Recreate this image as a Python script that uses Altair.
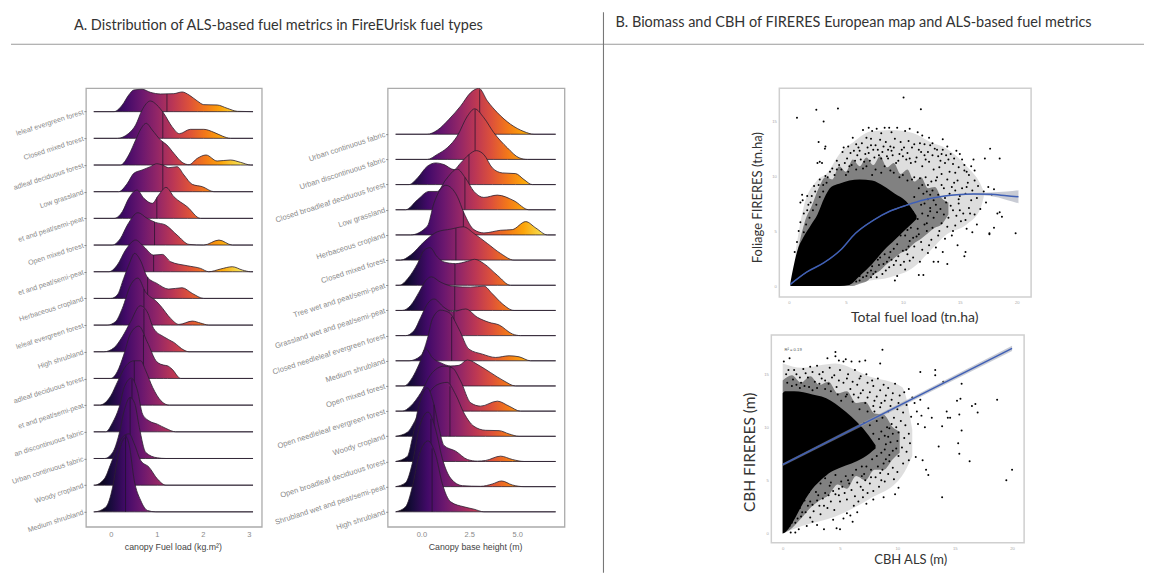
import altair as alt
import numpy as np
import pandas as pd

TITLE_A = "A. Distribution of ALS-based fuel metrics in FireEUrisk fuel types"
TITLE_B = "B. Biomass and CBH of FIRERES European map and ALS-based fuel metrics"

INFERNO = ["#000004", "#160b39", "#420a68", "#6a176e", "#932667", "#bc3754",
           "#dd513a", "#f37819", "#fca50a", "#f6d746", "#fcffa4"]

# ---- Panel A: label, median, (x, height); height in 1/80 of a row
A_LABELS = ["leleaf evergreen forest", "Closed mixed forest", "adleaf deciduous forest",
            "Low grassland", "et and peat/semi-peat", "Open mixed forest",
            "et and peat/semi-peat", "Herbaceous cropland", "leleaf evergreen forest",
            "High shrubland", "adleaf deciduous forest", "et and peat/semi-peat",
            "an discontinuous fabric", "Urban continuous fabric", "Woody cropland",
            "Medium shrubland"]
A_MEDIANS = [1.22, 1.13, 1.13, 1.13, 1.0, 0.95, 0.93, 0.8, 0.72, 0.72, 0.71, 0.51, 0.46, 0.42, 0.33, 0.32]
A_RIDGES = [
    [(0.07,0),(0.25,20),(0.39,50),(0.5,65),(0.68,67),(0.86,58),(1.08,53),(1.37,54),(1.55,59),(1.7,50),(1.88,32),(2.02,21),(2.31,20),(2.53,10),(2.75,1)],
    [(0.14,0),(0.39,15),(0.54,40),(0.68,85),(0.86,112),(1.0,100),(1.15,75),(1.33,35),(1.49,14),(1.73,27),(2.02,27),(2.24,18),(2.42,7),(2.6,0)],
    [(0.21,0),(0.39,30),(0.54,75),(0.64,105),(0.77,125),(0.9,105),(1.08,75),(1.22,60),(1.37,35),(1.55,8),(1.7,1),(1.88,20),(2.07,30),(2.31,12),(2.6,15),(2.82,8),(3.04,0)],
    [(0.17,0),(0.36,25),(0.5,55),(0.68,65),(0.86,75),(1.0,84),(1.12,80),(1.26,72),(1.44,75),(1.59,50),(1.77,22),(1.99,15),(2.24,0)],
    [(0.07,0),(0.25,20),(0.39,60),(0.57,85),(0.72,60),(0.9,45),(1.04,70),(1.2,93),(1.37,65),(1.66,35),(1.95,0)],
    [(0.03,0),(0.21,20),(0.36,60),(0.59,97),(0.79,80),(0.97,68),(1.19,60),(1.44,30),(1.7,2),(2.02,0),(2.35,15),(2.64,0)],
    [(-0.04,0),(0.14,20),(0.32,65),(0.54,95),(0.72,75),(0.93,50),(1.12,52),(1.3,30),(1.66,18),(1.95,10),(2.13,0),(2.38,8),(2.64,15),(2.86,5),(3.04,0)],
    [(0.0,0),(0.14,10),(0.28,60),(0.39,100),(0.52,135),(0.64,115),(0.79,65),(1.0,45),(1.26,28),(1.55,32),(1.77,15),(2.02,0)],
    [(-0.08,0),(0.1,10),(0.25,50),(0.43,120),(0.59,141),(0.75,100),(1.0,70),(1.08,58),(1.3,20),(1.48,2),(1.77,12),(1.95,6),(2.13,0)],
    [(-0.15,0),(0.07,12),(0.25,45),(0.43,90),(0.64,138),(0.79,120),(0.93,70),(1.15,45),(1.37,28),(1.59,5),(1.7,0)],
    [(0.0,0),(0.14,20),(0.28,70),(0.43,135),(0.61,157),(0.79,110),(1.0,50),(1.15,40),(1.23,38),(1.33,28),(1.52,0)],
    [(-0.25,0),(0.0,28),(0.14,68),(0.33,118),(0.51,133),(0.65,133),(0.76,103),(0.91,53),(1.09,13),(1.27,0)],
    [(-0.11,0),(0.04,28),(0.18,73),(0.29,133),(0.45,161),(0.58,123),(0.69,53),(0.83,33),(1.01,23),(1.2,10),(1.41,0)],
    [(-0.14,0),(0.04,18),(0.18,73),(0.29,143),(0.42,183),(0.52,165),(0.62,93),(0.76,18),(1.01,2),(1.2,0)],
    [(-0.36,0),(-0.14,19),(0.0,64),(0.14,114),(0.29,149),(0.4,154),(0.51,124),(0.65,74),(0.83,54),(1.01,19),(1.2,0)],
    [(-0.36,0),(-0.11,14),(0.04,74),(0.14,154),(0.22,200),(0.33,224),(0.4,200),(0.51,94),(0.65,34),(0.8,4),(0.98,0)],
]

# ---- Panel B: same idea; heights in 1/75.6 of a row
B_LABELS = ["Urban continuous fabric", "Urban discontinuous fabric", "Closed broadleaf deciduous forest",
            "Low grassland", "Herbaceous cropland", "Closed mixed forest", "Tree wet and peat/semi-peat",
            "Grassland wet and peat/semi-peat", "Closed needleleaf evergreen forest", "Medium shrubland",
            "Open mixed forest", "Open needleleaf evergreen forest", "Woody cropland",
            "Open broadleaf deciduous forest", "Shrubland wet and peat/semi-peat", "High shrubland"]
B_MEDIANS = [3.04, 2.8, 2.48, 2.27, 2.19, 1.8, 1.75, 1.74, 1.7, 1.58, 1.53, 1.49, 1.49, 0.66, 0.5, 0.56]
B_RIDGES = [
    [(0.3,0),(0.83,12),(1.44,45),(2.05,85),(2.57,125),(3.0,138),(3.44,100),(3.96,65),(4.65,30),(5.35,8),(5.87,0)],
    [(0.31,0),(0.83,15),(1.35,35),(1.87,70),(2.4,130),(2.78,152),(3.26,125),(3.78,80),(4.48,35),(5.09,5),(5.52,0)],
    [(-0.64,0),(-0.2,20),(0.31,55),(0.75,65),(1.18,60),(1.7,45),(2.05,65),(2.48,90),(2.86,102),(3.26,90),(3.7,50),(4.22,35),(4.91,33),(5.35,15),(5.78,0)],
    [(-0.82,0),(-0.2,30),(0.4,55),(0.83,55),(1.27,90),(1.87,122),(2.3,95),(2.74,55),(3.26,37),(3.96,44),(4.83,27),(5.6,0)],
    [(-0.56,0),(0.31,26),(0.66,96),(1.27,149),(1.87,116),(2.22,66),(2.74,16),(3.26,6),(4.13,14),(4.74,16),(5.44,40),(5.96,21),(6.57,0)],
    [(-1.08,0),(-0.56,15),(0.14,55),(0.83,85),(1.53,93),(2.19,100),(2.74,80),(3.44,50),(4.13,20),(4.83,0)],
    [(-1.16,0),(-0.64,25),(-0.2,65),(0.14,105),(0.45,113),(0.83,85),(1.18,70),(1.79,65),(2.4,72),(2.78,78),(3.26,65),(3.96,30),(4.65,0)],
    [(-1.0,0),(-0.56,15),(-0.12,55),(0.23,90),(0.52,101),(1.0,85),(1.7,72),(2.57,70),(3.26,73),(3.7,50),(4.22,20),(4.83,0)],
    [(-0.82,0),(-0.38,15),(-0.03,55),(0.31,95),(0.66,110),(1.18,85),(1.61,72),(2.31,80),(2.92,55),(3.52,40),(4.05,32),(4.74,5),(5.17,0)],
    [(-0.64,0),(-0.03,15),(0.31,65),(0.57,125),(1.0,152),(1.44,145),(1.96,95),(2.48,35),(3.18,20),(3.87,10),(4.57,15),(5.09,12),(5.69,0)],
    [(-0.9,0),(-0.47,25),(-0.12,65),(0.23,112),(0.57,85),(1.0,70),(1.53,60),(1.96,62),(2.4,78),(3.0,62),(3.61,40),(4.31,15),(4.91,0)],
    [(-1.0,0),(-0.56,15),(-0.03,55),(0.49,110),(1.18,135),(1.61,130),(2.05,90),(2.57,25),(3.09,15),(3.96,30),(4.57,15),(5.17,0)],
    [(-1.34,0),(-0.73,12),(-0.3,50),(0.23,115),(0.83,155),(1.35,162),(1.79,125),(2.22,70),(2.74,30),(3.35,18),(4.05,17),(4.57,7),(5.09,0)],
    [(-1.34,0),(-0.73,15),(-0.47,70),(-0.12,170),(0.31,221),(0.66,170),(0.92,100),(1.18,48),(1.79,31),(2.4,6),(2.92,1),(3.35,3),(4.13,16),(4.74,6),(5.35,0)],
    [(-1.34,0),(-0.82,12),(-0.47,70),(-0.12,175),(0.35,224),(0.75,170),(1.09,85),(1.53,25),(2.14,3),(3.09,1),(3.7,8),(4.18,17),(4.74,5),(5.35,0)],
    [(-1.34,0),(-0.82,15),(-0.47,75),(-0.12,170),(0.35,213),(0.75,170),(1.09,85),(1.53,30),(2.22,15),(2.74,8),(3.26,0)],
]

# ---- Panel C
C_CORE_X = [0.12,0.7,1.3,1.9,2.5,3.1,3.7,4.4,5.3,6.2,7.3,8.3,9.3,10.3,11.2]
C_CORE_LO = [0,0,0,0,0,0,0,0,0.1,0.9,2.0,3.2,4.2,5.2,6.1]
C_CORE_HI = [0.3,3.1,4.5,5.5,6.5,8.0,9.0,9.3,9.6,9.7,9.6,9.1,8.4,7.7,6.4]
C_MID_X = [0.8,1.4,2.0,2.6,3.2,3.8,4.4,5.0,5.6,6.2,6.8,7.4,8.0,8.6,9.2,9.8,10.4,11.0,11.6,12.2,12.8,13.4,14.0]
C_MID_LO = [0,0,0,0,0,0,0,0,0,0.2,0.4,1.0,1.4,2.0,2.5,3.0,3.3,3.9,4.3,4.8,5.3,5.6,6.5]
C_MID_HI = [3.4,5.9,7.3,8.9,9.9,9.7,10.9,10.4,11.5,10.9,11.7,11.0,11.8,10.8,11.2,10.2,10.6,9.5,9.9,8.9,9.0,8.0,7.6]
C_FRINGE_X = [0.56, 1.29, 2.46, 3.33, 4.5, 5.67, 7.13, 8.89, 10.94, 12.4, 13.86, 15.6, 16.8, 17.1]
C_FRINGE_LO = [0, 0, 0, 0, 0, 0.2, 0.5, 0.8, 1.7, 3.2, 4.7, 5.6, 7.0, 8.1]
C_FRINGE_HI = [3.0, 7.2, 9.6, 10.25, 12.1, 13.1, 14.05, 14.2, 13.9, 13.1, 12.5, 10.9, 9.3, 8.6]
C_LINE_X = [0.12, 1.58, 3.04, 4.5, 5.82, 7.43, 8.89, 10.35, 11.81, 13.27, 14.74, 16.2, 17.66, 19.12, 20.15]
C_LINE_Y = [0.15, 1.28, 2.1, 3.25, 4.78, 6.0, 6.82, 7.36, 7.82, 8.12, 8.3, 8.37, 8.34, 8.21, 8.12]
C_BAND = [0.04, 0.04, 0.04, 0.04, 0.04, 0.04, 0.04, 0.05, 0.05, 0.06, 0.07, 0.1, 0.16, 0.38, 0.6]
C_POINTS = [
 (10.06,17.16),(0.7,15.3),(2.4,16.03),(4.3,16.15),(3.04,14.97),(11.58,16.09),(2.6,13.1),(3.2,12.7),(3.15,12.5),(2.7,11.3),(2.9,11.2),(2.5,11.2),
 (13.5,13.35),(17.66,12.5),(18.5,11.6),(17.2,11.6),(16.2,11.5),(19.9,4.8),(17.6,4.8),(17.6,4.7),(18.0,5.3),(18.3,6.6),(18.7,6.3),(18.5,6.7),
 (13.9,2.0),(15.4,2.7),(15.5,3.1),(11.8,1.0),(11.4,1.0),(9.5,0.9),(9.3,0.5),(12.7,2.2),(13.1,2.2),(11.5,2.2),(10.6,2.3),
 (1.15,8.3),(1.2,7.8),(1.0,7.6),(1.6,8.2),(0.7,4.0),(0.5,3.1),(1.0,5.8),(0.85,5.0),(1.3,6.6),(1.7,7.4),(2.0,8.2),(2.2,9.1),(2.7,9.7),(3.2,10.0),(3.0,9.2),
 (6.5,14.2),(7.0,14.4),(7.3,14.1),(7.7,14.3),(8.1,13.9),(8.4,14.4),(8.8,14.4),(9.0,14.0),(9.5,14.4),(10.2,14.1),(10.6,14.3),(11.3,14.0),(11.7,13.7),(12.3,13.5),(12.6,13.0),
 (5.6,13.5),(5.2,12.7),(4.7,12.2),(4.2,11.4),(3.8,10.7),(5.9,12.9),(6.4,13.0),(6.8,13.5),(7.2,13.4),(7.6,12.8),(8.0,13.3),(8.5,13.1),(8.9,12.7),(9.3,13.4),(9.8,13.1),(10.1,12.6),(10.5,13.2),(11.0,12.9),(11.4,12.4),(11.9,12.9),(12.2,12.2),(12.8,12.5),(13.1,11.8),(13.5,12.4),(13.9,12.7),
 (5.1,11.6),(5.5,11.0),(6.0,11.9),(6.6,11.3),(7.0,12.1),(7.5,11.7),(8.2,12.2),(8.7,11.6),(9.1,11.9),(9.6,11.4),(10.0,11.8),(10.7,11.2),(11.2,11.7),(11.7,10.9),(12.3,11.3),(12.7,10.6),(13.2,10.8),(13.7,11.2),(14.1,10.4),(14.5,11.6),(14.9,10.8),(15.4,11.0),(15.8,10.1),(16.3,10.5),(14.2,12.0),(15.0,12.0),
 (12.0,9.9),(12.5,9.5),(13.0,9.9),(13.4,9.2),(13.9,9.7),(14.3,9.0),(14.8,9.6),(15.2,8.9),(15.7,9.4),(16.1,8.7),(16.6,9.1),(17.1,8.6),(17.5,9.0),(18.0,8.8),(17.8,8.3),
 (12.2,7.9),(12.9,7.4),(13.3,7.0),(13.8,7.6),(14.4,6.9),(14.9,7.5),(15.3,6.6),(15.8,7.1),(16.3,6.5),(16.8,7.0),(17.3,7.6),(12.7,6.2),(13.4,5.7),(14.0,6.2),(14.6,5.5),(15.1,5.9),(15.6,5.2),(16.1,4.9),(16.5,5.6),
 (11.4,4.7),(12.1,5.0),(12.5,4.2),(13.1,4.6),(13.7,4.3),(14.3,4.6),(14.8,3.7),(11.0,3.6),(11.7,3.3),(12.2,3.0),(12.9,3.5),(13.5,3.1),(10.4,2.9),(10.9,2.6),(9.8,1.9),(10.2,1.5),(8.8,1.7),(9.0,2.4),(8.2,1.1),(7.6,1.3),(7.2,0.8),
 (1.6,6.9),(1.9,7.6),(2.3,8.6),(2.6,9.2),(3.4,9.9),(3.6,10.4),(4.0,10.1),(4.4,11.0),(4.6,10.6),(4.9,11.2),(5.3,10.9),(5.7,12.3),(6.1,12.6),(6.3,11.5),(6.9,12.6),(7.1,11.4),(7.4,12.4),(7.9,11.9),(8.3,12.7),(8.6,11.8),(9.0,12.3),(9.4,11.2),(9.9,12.4),(10.3,11.5),(10.8,12.6),(11.1,11.3),(11.5,13.0),(11.9,11.9),(12.4,12.8),(13.0,12.4),(13.3,11.4),(13.8,11.9),(14.4,11.1),(14.7,12.3),(15.2,11.5),(15.6,10.4),(16.0,10.9),
 (11.5,9.8),(12.2,9.2),(12.6,8.7),(13.1,8.3),(13.6,8.9),(14.1,8.4),(14.6,8.7),(15.0,8.2),(15.5,8.4),(16.0,7.8),(16.5,8.0),(11.8,8.4),(12.4,7.1),(13.0,6.7),(13.6,6.5),(14.2,7.3),(14.7,6.4),(15.5,6.0),(12.2,6.4),(11.9,5.6),(12.6,5.3),(13.2,5.0),(13.9,5.4),(14.4,5.0),(11.3,5.2),(10.9,4.4),(11.6,4.0),(12.3,3.7),(10.5,3.6),(10.0,3.2),(9.6,2.7),(10.1,2.2),(9.2,1.9),(8.6,2.2),(8.5,1.4),(7.9,1.9),(7.7,0.8),(6.9,1.2),(6.5,0.8),(6.2,0.5),(6.6,1.5),(7.3,1.8),(8.0,2.6),(8.9,3.1),(9.5,3.8),(10.2,4.6),(10.7,5.3),
 (0.9,2.9),(1.1,3.8),(1.3,4.9),(1.5,5.6),(1.8,6.2),(2.1,6.9),(2.4,7.4),(2.7,8.1),(3.0,8.6),(3.3,9.4),(5.0,10.1),(5.9,10.6),(6.8,10.9),(7.6,10.6),(8.4,10.9),(9.2,10.3),(10.0,10.1),(10.8,9.7),(11.4,8.9),(11.0,8.1),(11.6,7.4),(10.9,6.7),(11.3,6.1),(10.4,5.1),(9.8,4.6),(9.2,3.4),(8.4,2.9),(7.8,2.4),(7.2,1.4),(6.2,0.9),
 (4.8,12.6),(5.4,12.1),(5.8,11.4),(6.2,12.3),(6.7,12.0),(7.2,12.8),(7.8,12.4),(8.1,11.6),(8.7,12.4),(9.2,12.6),(9.7,12.0),(10.4,12.1),(10.6,11.6),(11.6,12.2),(12.0,11.5),(12.6,11.9),(13.4,12.0),(14.0,11.5),(15.4,10.5),(14.6,10.3),(13.4,10.2),(12.9,9.6),(14.5,9.4),(15.6,9.0),(16.3,9.6),(12.4,8.3),(13.7,8.0),(14.9,7.9),(15.9,6.6),(15.0,6.9),
 (4.2,10.6),(5.2,10.4),(6.5,10.7),(7.3,10.1),(8.1,10.3),(8.9,10.5),(9.7,9.9),(10.4,9.6),(11.0,9.9),(11.7,9.2),(12.1,8.6),(11.9,7.5),(12.7,7.8),(12.4,6.8),(11.7,6.6),(12.1,5.7),(11.2,4.5),(10.6,4.1),(10.3,3.3),(9.4,2.3),(8.8,2.6),(8.3,2.0),(7.4,1.1),(6.8,0.9),(5.9,0.4),
]

# ---- Panel D
D_CORE_X = [0,0.2,1,1.8,2.6,3.4,4.2,5,6,7,8.1]
D_CORE_LO = [0,0.1,1.3,2.9,4.2,5.1,5.8,6.2,6.6,7.1,8.0]
D_CORE_HI = [13.2,13.4,13.4,13.3,13.1,12.9,12.5,11.9,11.0,9.9,8.3]
D_MID_X = [0,0.8,1.6,2.4,3.2,4,4.8,5.6,6.4,7.2,8,8.8,9.6,10.2]
D_MID_LO = [0,0.5,1.4,2.4,3.1,3.6,4.6,4.2,5.4,5.0,6.0,6.0,7.0,7.6]
D_MID_HI = [14.4,14.9,14.2,14.8,14.0,14.3,13.2,13.4,12.3,12.4,11.3,11.2,10.0,9.6]
D_FRINGE_X = [0.0, 1.69, 4.6, 7.5, 10.4, 11.3]
D_FRINGE_LO = [0, 0.7, 1.6, 3.2, 5.4, 7.3]
D_FRINGE_HI = [16.0, 15.6, 16.0, 14.8, 13.8, 9.8]
D_LINE_X = [0.0, 20.0]
D_LINE_Y = [6.48, 17.44]
D_BAND = [0.12, 0.25]
D_POINTS = [
 (8.7,17.3),(4.6,17.1),(4.6,16.7),(0.1,16.2),(0.6,16.5),(3.9,16.5),(4.9,16.3),(5.3,16.2),(5.5,16.4),(6.0,16.2),(6.7,16.2),(7.2,16.3),(8.5,16.0),
 (12.0,15.2),(13.3,15.4),(13.3,14.9),(14.0,14.3),(15.6,14.1),(15.5,12.7),(15.2,12.5),(16.5,12.0),(17.0,11.4),(14.3,11.5),(15.4,11.2),(16.8,12.2),(18.7,12.6),(13.9,10.1),(15.6,9.7),(15.3,8.5),(15.4,7.5),(16.3,6.8),(19.5,5.0),(20.0,6.0),
 (12.5,6.0),(12.7,5.5),(13.9,3.4),(12.2,6.9),(11.0,6.9),(11.6,7.2),(13.6,8.2),(14.4,10.9),(14.6,10.9),(10.1,4.3),(9.8,3.7),(8.8,3.4),
 (11.8,10.3),(12.4,10.0),(13.0,10.9),(12.1,11.1),(11.7,11.5),(11.2,11.0),(12.7,11.8),(11.5,12.3),(12.0,12.6),(10.8,12.1),(11.3,12.8),(10.6,13.3),(11.0,13.6),(9.8,14.1),(10.2,13.0),(9.2,13.7),(9.6,13.2),
 (11.0,9.4),(10.6,9.0),(11.1,8.5),(10.4,8.1),(10.8,7.7),(10.1,7.3),(10.5,6.6),(9.6,6.2),(10.0,5.8),(9.2,5.6),(9.7,5.1),(8.9,4.9),(8.4,4.4),(7.6,4.7),(8.1,5.3),(7.4,3.8),(7.0,3.4),(7.3,2.8),(7.9,3.2),(6.6,3.0),(6.2,2.6),(6.5,2.0),(5.9,1.7),(6.1,1.1),(5.6,1.9),(5.0,0.4),(4.7,0.5),(5.3,1.4),(4.4,1.3),
 (3.6,0.4),(3.0,0.8),(2.6,1.1),(2.1,0.7),(1.4,0.4),(1.1,0.1),(0.7,0.1),(3.3,1.8),(3.9,2.4),(4.5,2.2),(5.0,3.0),(5.4,3.8),(6.0,4.1),(6.8,4.4),(7.2,5.0),(8.7,6.0),(9.0,7.0),
 (1.2,15.0),(1.8,15.5),(2.4,15.7),(3.0,15.8),(3.5,15.2),(4.1,15.6),(4.5,14.9),(5.0,15.4),(5.7,15.0),(6.3,15.4),(6.8,14.8),(7.3,15.0),(7.8,14.4),(8.3,14.6),(8.8,14.0),
 (0.5,15.4),(0.9,14.5),(1.6,14.2),(2.2,14.7),(2.8,14.3),(3.4,14.6),(4.0,14.1),(4.7,13.8),(5.3,14.2),(5.9,13.6),(6.5,14.0),(7.0,13.5),(7.6,13.3),(8.2,12.9),(8.9,12.5),(9.4,12.0),(10.0,11.7),(10.3,10.6),(9.5,10.3),(10.1,9.5),(9.4,8.6),(9.9,8.0),(9.0,8.4),
 (0.4,14.2),(0.8,13.9),(1.2,14.0),(1.5,13.7),(1.9,13.9),(2.3,13.8),(2.6,13.5),(3.0,13.7),(3.2,14.1),(3.7,13.6),(4.2,13.4),(4.8,13.1),(5.5,12.9),(5.1,12.5),(6.1,12.4),(6.6,12.8),(7.2,12.3),(6.7,11.7),(7.4,11.5),(7.9,12.0),
 (8.5,11.9),(8.0,11.5),(8.7,10.9),(8.2,10.6),(9.1,10.0),(8.6,9.6),(9.6,9.4),(9.2,9.1),(8.4,8.9),(7.9,9.4),(7.6,10.2),(7.1,10.4),
 (1.0,1.8),(1.5,2.4),(1.9,3.1),(2.3,3.9),(2.9,3.9),(3.3,4.7),(3.7,5.2),(4.2,4.8),(4.6,5.5),(5.1,4.9),(5.5,5.4),(6.1,5.5),(6.4,6.0),(6.9,5.4),(7.3,6.3),(7.7,6.0),(8.3,6.3),(0.8,1.0),(1.3,1.4),(2.0,2.0),(2.6,2.7),(3.0,3.1),(3.5,3.3),(4.0,3.6),(4.4,4.0),
 (8.6,7.6),(8.9,7.9),(9.3,6.8),(7.8,7.0),(8.2,7.3),(6.9,6.3),(5.8,4.7),(4.9,4.2),(4.1,4.5),(3.1,3.6),(2.4,3.0),(1.7,2.0),
 (0.3,15.0),(1.0,15.4),(1.5,14.7),(2.0,15.1),(2.6,15.2),(3.2,15.0),(3.7,14.4),(4.3,14.7),(4.9,14.4),(5.6,14.6),(6.1,14.3),(6.7,14.6),(7.4,14.2),(7.9,13.9),(8.5,13.5),(9.0,13.0),(9.5,12.6),(10.1,12.3),(10.5,11.4),(10.7,10.2),
 (5.6,13.1),(6.2,13.1),(6.8,13.2),(7.4,12.8),(8.0,12.5),(8.6,12.3),(9.2,11.5),(9.7,10.9),(9.9,10.0),(9.3,9.9),(8.9,9.2),(10.0,8.7),(9.6,7.8),(9.3,7.4),(8.8,6.6),(8.5,5.7),(7.7,5.3),(7.1,5.6),(6.5,4.8),(5.7,5.0),(5.2,4.4),(4.6,3.7),(3.7,3.8),(3.2,2.6),(2.7,2.1),(2.2,2.6),(1.6,1.6),(1.1,1.0),(0.6,0.7),(4.2,3.0),(4.9,3.6),(5.6,3.2),(6.3,3.5),(7.0,4.1),(7.9,4.0),(8.6,5.0),(2.4,1.5),(3.6,2.6),
]

ABS_R2 = "R² = 0.19"

LABEL_FONT = "Liberation Sans"
HEAD_FONT = "Lato"
GRAD = alt.Gradient(gradient="linear", x1=0, x2=1, y1=0, y2=0,
                    stops=[alt.GradientStop(offset=i / 10, color=c) for i, c in enumerate(INFERNO)])


def spacer(w, h=1):
    return (alt.Chart(pd.DataFrame({"a": [0]})).mark_point(opacity=0, size=1)
            .encode(x=alt.value(0), y=alt.value(0))
            .properties(width=w, height=h, view=alt.ViewConfig(stroke=None)))


def ridge_panel(labels, medians, ridges, tail, row_px, x_dom, y_dom, x_ticks, x_fmt, x_title, w, h, label_fs):
    sx = alt.Scale(domain=x_dom, nice=False, zero=False)
    sy = alt.Scale(domain=y_dom, nice=False, zero=False)
    names = ",".join("'" + s + "'" for s in labels)
    ax_x = alt.Axis(values=x_ticks, format=x_fmt, grid=False, domain=False, ticks=False, labelColor="#8a8a8a",
                    labelFontSize=7.5, labelFont=LABEL_FONT, labelPadding=4, title=x_title, titleFont=LABEL_FONT,
                    titleFontSize=8.8, titleFontWeight="normal", titleColor="#444444", titleX=w / 2 - 1, titleY=20,
                    titleAnchor="middle", titleBaseline="middle")
    ax_y = alt.Axis(values=list(range(len(labels))), labelExpr=f"[{names}][{len(labels) - 1} - datum.value]",
                    grid=False, domain=False, tickSize=2, tickColor="#888888", labelAngle=342, labelAlign="right",
                    labelBaseline="middle", labelColor="#8a8a8a", labelFontSize=label_fs, labelFont=LABEL_FONT,
                    labelPadding=1, labelLimit=300, labelOverlap=False, title=None)
    layers = []
    n = len(labels)
    for i, pts in enumerate(ridges):
        base = n - 1 - i
        xs = [tail[0]] + [p[0] for p in pts] + [tail[1]]
        hs = [0] + [p[1] / row_px for p in pts] + [0]
        df = pd.DataFrame({"x": xs, "top": [base + v for v in hs], "base": base})
        area = alt.Chart(df).mark_area(fill=GRAD, stroke="#2b2030", strokeWidth=0.8, interpolate="monotone",
                                       clip=True).encode(
            x=alt.X("x:Q", scale=sx, axis=ax_x),
            y=alt.Y("top:Q", scale=sy, axis=ax_y),
            y2="base:Q",
        )
        m = medians[i]
        top = base + float(np.interp(m, xs, hs))
        rule = alt.Chart(pd.DataFrame({"x": [m], "top": [top], "base": [base]})).mark_rule(
            color="#20122a", strokeWidth=0.7).encode(
            x=alt.X("x:Q", scale=sx, axis=ax_x),
            y=alt.Y("top:Q", scale=sy, axis=ax_y),
            y2="base:Q",
        )
        layers += [area, rule]
    return alt.layer(*layers).properties(width=w, height=h, view=alt.ViewConfig(stroke="#ababab", strokeWidth=1.3))


def scatter_panel(core, mid, fringe, pts, line, band, x_dom, y_dom, x_range, w, h, x_title, y_title, tx, ty,
                  ytx, yty, x_fs, y_fs, interp, extra=None):
    sx = alt.Scale(domain=x_dom, range=x_range, nice=False, zero=False)
    sy = alt.Scale(domain=y_dom, nice=False, zero=False)
    off = -x_range[0] if x_range[0] else 0
    ax_x = alt.Axis(values=[0, 5, 10, 15, 20], grid=False, domain=False, ticks=False, labelColor="#aaaaaa", labelFontSize=4.2,
                    labelPadding=4, title=x_title, titleFont=HEAD_FONT, titleFontSize=x_fs, titleFontWeight="normal",
                    titleColor="#333333", titleX=tx, titleY=ty, titleAnchor="middle", titleBaseline="middle")
    ax_y = alt.Axis(values=[0, 5, 10, 15], grid=False, domain=False, ticks=False, labelColor="#aaaaaa", labelFontSize=4.2,
                    labelPadding=3, offset=off, title=y_title, titleFont=HEAD_FONT, titleFontSize=y_fs,
                    titleFontWeight="normal", titleColor="#333333", titleX=ytx, titleY=yty, titleAnchor="middle",
                    titleBaseline="middle")

    def band_chart(tbl, opacity, kind):
        df = pd.DataFrame({"x": tbl[0], "lo": tbl[1], "hi": tbl[2]})
        return alt.Chart(df).mark_area(color="#000000", opacity=opacity, interpolate=kind).encode(
            x=alt.X("x:Q", scale=sx, axis=ax_x), y=alt.Y("hi:Q", scale=sy, axis=ax_y), y2="lo:Q")

    pdf = pd.DataFrame(pts, columns=["x", "y"])
    ldf = pd.DataFrame({"x": line[0], "y": line[1], "hi": np.add(line[1], band), "lo": np.subtract(line[1], band)})
    frame = alt.Chart(pd.DataFrame({"a": [0]})).mark_rect(fillOpacity=0, stroke="#cfcfcf", strokeWidth=1.5).encode(
        x=alt.value(x_range[0]), x2=alt.value(x_range[1]), y=alt.value(0), y2=alt.value(h))
    layers = [
        band_chart(fringe, 0.13, "monotone"), band_chart(mid, 0.42, "monotone"), band_chart(core, 1.0, "monotone"),
        alt.Chart(pdf).mark_circle(size=4, color="#000000", opacity=1).encode(
            x=alt.X("x:Q", scale=sx, axis=ax_x), y=alt.Y("y:Q", scale=sy, axis=ax_y)),
        alt.Chart(ldf).mark_area(color="#9aa0b0", opacity=0.55, interpolate=interp).encode(
            x=alt.X("x:Q", scale=sx, axis=ax_x), y=alt.Y("hi:Q", scale=sy, axis=ax_y), y2="lo:Q"),
        alt.Chart(ldf).mark_line(color="#3f5fb5", strokeWidth=1.5, interpolate=interp).encode(
            x=alt.X("x:Q", scale=sx, axis=ax_x), y=alt.Y("y:Q", scale=sy, axis=ax_y)),
        frame,
    ]
    if extra:
        layers.append(alt.Chart(pd.DataFrame({"x": [extra[0]], "y": [extra[1]], "t": [extra[2]]})).mark_text(
            align="left", baseline="middle", fontSize=4.2, color="#555555").encode(
            x=alt.X("x:Q", scale=sx, axis=ax_x), y=alt.Y("y:Q", scale=sy, axis=ax_y), text="t:N"))
    return alt.layer(*layers).properties(width=w, height=h, view=alt.ViewConfig(stroke=None))


panel_a = ridge_panel(A_LABELS, A_MEDIANS, A_RIDGES, (-0.37, 3.09), 80.0, [-0.54, 3.28],
                      [-0.56, 15.88], [0, 1, 2, 3], "d", "canopy Fuel load (kg.m²)", 176, 439, 7.1)
panel_b = ridge_panel(B_LABELS, B_MEDIANS, B_RIDGES, (-1.34, 7.0), 75.6, [-1.755, 7.46],
                      [-0.595, 16.83], [0, 2.5, 5], ".1f", "Canopy base height (m)", 177, 439, 7.6)
panel_c = scatter_panel((C_CORE_X, C_CORE_LO, C_CORE_HI), (C_MID_X, C_MID_LO, C_MID_HI),
                        (C_FRINGE_X, C_FRINGE_LO, C_FRINGE_HI), C_POINTS, (C_LINE_X, C_LINE_Y), C_BAND,
                        [-0.85, 21.26], [-1.0, 18.0], [8, 260], 260, 209, "Total fuel load (tn.ha)",
                        "Foliage FIRERES (tn.ha)", 143, 21, -22, 109, 14, 13, "monotone")
panel_d = scatter_panel((D_CORE_X, D_CORE_LO, D_CORE_HI), (D_MID_X, D_MID_LO, D_MID_HI),
                        (D_FRINGE_X, D_FRINGE_LO, D_FRINGE_HI), D_POINTS, (D_LINE_X, D_LINE_Y), D_BAND,
                        [-0.99, 21.05], [-0.88, 18.7], [0, 253], 253, 208, "CBH ALS (m)",
                        "CBH FIRERES (m)", 139, 17, -22, 117, 13, 15.5, "linear", extra=(0.15, 17.29, ABS_R2))

# Header: section titles and divider lines
one = pd.DataFrame({"a": [0]})
head = alt.layer(
    alt.Chart(one).mark_text(text=TITLE_A, align="left", baseline="middle", font=HEAD_FONT, fontSize=14.5,
                             color="#333333").encode(x=alt.value(65), y=alt.value(18)),
    alt.Chart(one).mark_text(text=TITLE_B, align="left", baseline="middle", font=HEAD_FONT, fontSize=14.5,
                             color="#333333").encode(x=alt.value(607), y=alt.value(15)),
    alt.Chart(one).mark_rule(color="#9a9a9a", strokeWidth=1.1).encode(x=alt.value(2), x2=alt.value(1136), y=alt.value(36)),
    alt.Chart(one).mark_rule(color="#777777", strokeWidth=1.1).encode(x=alt.value(595), y=alt.value(4), y2=alt.value(565)),
).properties(width=1136, height=80, view=alt.ViewConfig(stroke=None))

right = alt.vconcat(panel_c, spacer(253, 38), panel_d, spacing=0, bounds="flush")
row = alt.hconcat(spacer(77), panel_a, spacer(126), panel_b, spacer(207), right, spacing=0, bounds="flush")
chart = alt.vconcat(head, row, spacing=0, bounds="flush").properties(
    padding={"left": 0, "right": 0, "top": 0, "bottom": 0}, background="white"
).configure_view(stroke=None).resolve_scale(x="independent", y="independent")

chart.save("out.html", embed_options={"renderer": "svg", "actions": False})
